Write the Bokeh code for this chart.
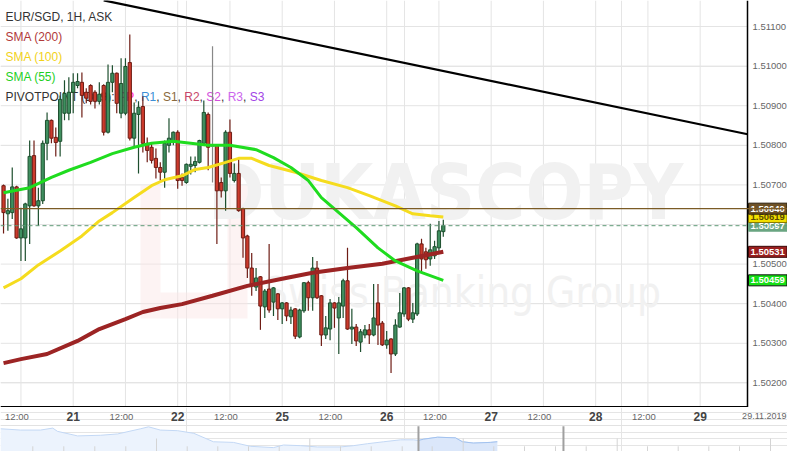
from bokeh.plotting import figure
from bokeh.models import Range1d, Span, ColumnDataSource
from bokeh.layouts import column
from bokeh.core.properties import value
from bokeh.embed import file_html
from bokeh.resources import INLINE

# ---------------- data ----------------
# trading hours counted from 20.11.2019 00:00 (weekend skipped)
hours = list(range(8, 110))
opens = [
    1.50698, 1.50627, 1.50630, 1.50695, 1.50566, 1.50566, 1.50647, 1.50774, 1.50647, 1.50660,
    1.50805, 1.50863, 1.50820, 1.50810, 1.50881, 1.50881, 1.50934, 1.50951, 1.50959, 1.50934,
    1.50951, 1.50934, 1.50911, 1.50951, 1.50833, 1.50959, 1.50982, 1.50881, 1.50881, 1.51009,
    1.50818, 1.50878, 1.50898, 1.50805, 1.50795, 1.50767, 1.50744, 1.50732, 1.50800, 1.50812,
    1.50833, 1.50719, 1.50706, 1.50747, 1.50749, 1.50757, 1.50805, 1.50878, 1.50798, 1.50800,
    1.50706, 1.50685, 1.50833, 1.50711, 1.50729, 1.50640, 1.50571, 1.50490, 1.50442, 1.50468,
    1.50392, 1.50437, 1.50404, 1.50425, 1.50387, 1.50402, 1.50367, 1.50387, 1.50316, 1.50382,
    1.50453, 1.50415, 1.50490, 1.50420, 1.50321, 1.50336, 1.50402, 1.50364, 1.50394, 1.50458,
    1.50336, 1.50341, 1.50303, 1.50321, 1.50334, 1.50321, 1.50402, 1.50351, 1.50296, 1.50311,
    1.50273, 1.50341, 1.50374, 1.50440, 1.50361, 1.50374, 1.50551, 1.50531, 1.50513, 1.50521,
    1.50541, 1.50582]
closes = [
    1.50630, 1.50635, 1.50695, 1.50566, 1.50589, 1.50652, 1.50772, 1.50647, 1.50660, 1.50805,
    1.50863, 1.50818, 1.50807, 1.50916, 1.50931, 1.50934, 1.50959, 1.50961, 1.50926, 1.50919,
    1.50911, 1.50911, 1.50929, 1.50833, 1.50959, 1.50982, 1.50906, 1.50956, 1.50999, 1.50818,
    1.50881, 1.50896, 1.50805, 1.50787, 1.50762, 1.50744, 1.50732, 1.50805, 1.50818, 1.50833,
    1.50711, 1.50711, 1.50752, 1.50752, 1.50759, 1.50812, 1.50883, 1.50795, 1.50798, 1.50685,
    1.50685, 1.50833, 1.50729, 1.50729, 1.50635, 1.50566, 1.50490, 1.50445, 1.50465, 1.50394,
    1.50432, 1.50384, 1.50440, 1.50387, 1.50402, 1.50369, 1.50384, 1.50318, 1.50384, 1.50453,
    1.50415, 1.50490, 1.50415, 1.50321, 1.50339, 1.50402, 1.50389, 1.50402, 1.50458, 1.50336,
    1.50341, 1.50306, 1.50329, 1.50334, 1.50321, 1.50364, 1.50346, 1.50296, 1.50308, 1.50273,
    1.50346, 1.50377, 1.50440, 1.50361, 1.50377, 1.50551, 1.50513, 1.50511, 1.50536, 1.50544,
    1.50584, 1.50597]
highs = [
    1.50701, 1.50665, 1.50744, 1.50698, 1.50642, 1.50655, 1.50812, 1.50812, 1.50693, 1.50812,
    1.50883, 1.50865, 1.50845, 1.50926, 1.50964, 1.50972, 1.50982, 1.50982, 1.50984, 1.50944,
    1.50954, 1.50939, 1.50959, 1.50954, 1.51004, 1.51002, 1.50984, 1.51020, 1.51020, 1.51080,
    1.50908, 1.50911, 1.50924, 1.50820, 1.50805, 1.50792, 1.50757, 1.50812, 1.50868, 1.50835,
    1.50838, 1.50729, 1.50754, 1.50772, 1.50772, 1.50814, 1.50913, 1.50883, 1.51050, 1.50802,
    1.50719, 1.50838, 1.50865, 1.50754, 1.50767, 1.50642, 1.50574, 1.50528, 1.50490, 1.50470,
    1.50437, 1.50551, 1.50442, 1.50427, 1.50404, 1.50404, 1.50392, 1.50389, 1.50387, 1.50455,
    1.50458, 1.50518, 1.50508, 1.50422, 1.50369, 1.50412, 1.50404, 1.50417, 1.50463, 1.50541,
    1.50387, 1.50349, 1.50336, 1.50346, 1.50349, 1.50450, 1.50450, 1.50356, 1.50331, 1.50313,
    1.50361, 1.50427, 1.50442, 1.50442, 1.50402, 1.50554, 1.50564, 1.50541, 1.50602, 1.50559,
    1.50609, 1.50612]
lows = [
    1.50577, 1.50584, 1.50614, 1.50564, 1.50508, 1.50508, 1.50551, 1.50645, 1.50597, 1.50652,
    1.50762, 1.50805, 1.50772, 1.50772, 1.50863, 1.50863, 1.50881, 1.50944, 1.50870, 1.50906,
    1.50903, 1.50893, 1.50903, 1.50825, 1.50830, 1.50934, 1.50881, 1.50868, 1.50876, 1.50812,
    1.50795, 1.50729, 1.50782, 1.50757, 1.50754, 1.50716, 1.50711, 1.50693, 1.50782, 1.50800,
    1.50690, 1.50698, 1.50703, 1.50726, 1.50732, 1.50754, 1.50800, 1.50737, 1.50706, 1.50551,
    1.50668, 1.50635, 1.50719, 1.50706, 1.50632, 1.50516, 1.50465, 1.50420, 1.50432, 1.50334,
    1.50364, 1.50377, 1.50369, 1.50359, 1.50349, 1.50356, 1.50349, 1.50311, 1.50313, 1.50377,
    1.50382, 1.50382, 1.50412, 1.50293, 1.50311, 1.50308, 1.50339, 1.50273, 1.50364, 1.50334,
    1.50298, 1.50293, 1.50278, 1.50313, 1.50298, 1.50318, 1.50296, 1.50293, 1.50286, 1.50225,
    1.50268, 1.50339, 1.50367, 1.50356, 1.50351, 1.50369, 1.50478, 1.50488, 1.50496, 1.50513,
    1.50533, 1.50569]

sma200_t = [8, 12, 18, 25, 30, 36, 40, 44, 49, 56, 64, 72, 79, 87, 95, 102, 109]
sma200_v = [1.50250, 1.50260, 1.50273, 1.50306, 1.50336, 1.50361, 1.50379, 1.50389, 1.50399,
            1.50420, 1.50445, 1.50463, 1.50478, 1.50490, 1.50501, 1.50516, 1.50531]
sma100_t = [8, 12, 16, 21, 26, 30, 33, 38, 42, 45, 49, 52, 55, 59, 62, 65, 69, 75, 81, 87, 92, 98, 102, 106, 109]
sma100_v = [1.50440, 1.50463, 1.50498, 1.50533, 1.50571, 1.50609, 1.50630, 1.50668, 1.50698, 1.50713,
            1.50723, 1.50739, 1.50744, 1.50757, 1.50767, 1.50767, 1.50749, 1.50732, 1.50711, 1.50693,
            1.50673, 1.50647, 1.50627, 1.50622, 1.50619]
sma55_t = [8, 14, 19, 23, 28, 33, 38, 42, 47, 51, 55, 60, 66, 70, 74, 78, 81, 85, 89, 94, 98, 103, 109]
sma55_v = [1.50680, 1.50693, 1.50719, 1.50737, 1.50757, 1.50779, 1.50795, 1.50805, 1.50810, 1.50805,
           1.50800, 1.50800, 1.50789, 1.50769, 1.50744, 1.50711, 1.50668, 1.50630, 1.50592, 1.50541,
           1.50508, 1.50483, 1.50459]

trend_t = [31.0, 178.9]
trend_v = [1.51166, 1.50828]

level_pivot = 1.50640
last_price = 1.50597
box_values = [1.50597, 1.50619, 1.50640, 1.50531, 1.50459]
box_texts = ["1.50597", "1.50619", "1.50640", "1.50531", "1.50459"]
box_fill = ["#6aa682", "#f2e000", "#6e5227", "#9a1f1f", "#16e016"]
box_text_color = ["white", "#5a4a00", "white", "white", "white"]
box_border = ["#6aa682", "#8a7a00", "#2a1f0c", "#3a0808", "#111111"]

price_ticks = [1.502, 1.503, 1.504, 1.505, 1.506, 1.507, 1.508, 1.509, 1.510, 1.511]
price_labels = ["1.50200", "1.50300", "1.50400", "1.50500", "1.50600", "1.50700", "1.50800",
                "1.50900", "1.51000", "1.51100"]
half_day_ticks = [12, 24, 36, 48, 60, 72, 84, 96, 108, 120, 132, 144, 156, 168]
noon_ticks = [12, 36, 60, 84, 108, 132, 156]
day_ticks = [24, 48, 72, 96, 120, 144, 168]
day_labels = ["21", "22", "25", "26", "27", "28", "29"]
date_label = "29.11.2019"

# navigator (overview) series
nav_t = [7.3, 11.9, 16.5, 19.3, 20.4, 25.0, 30.3, 34.2, 39.5, 41.3, 44.0, 48.0, 51.7, 56.2, 60.8,
         64.7, 70.0, 72.3, 76.2, 80.1, 85.4, 88.4, 91.6, 95.3, 99.2, 102.2, 103.3, 104.5, 107.7,
         111.8, 113.4, 115.9, 119.8, 121.4]
nav_level = [35, 33, 33, 36, 31, 24, 25, 27, 35, 38, 33, 32, 28, 15, 14,
             8, 6, 10, 9, 7, 7, 9, 12, 15, 18, 18, 17, 19, 22,
             21, 15, 13, 14, 15]
nav_window = [103.3, 136.6]
nav_ticks = [14.72, 21.84, 28.96, 36.08, 43.13, 50.18, 57.21, 64.26, 71.31, 78.34, 85.39, 92.44,
             99.56, 106.45, 113.57, 120.60, 127.65, 134.77, 141.82, 148.94, 155.90, 162.95,
             169.98, 177.03, 184.15]
nav_tick_major = [False, False, False, False, True, False, False, False, False, True, False, False,
                  False, False, True, False, False, False, False, True, False, False,
                  False, False, True]

# ---------------- geometry ----------------
W = 787
FH = 407
PX_PER_H = 4.354
X0 = 24 - 72.7 / PX_PER_H
XR = X0 + W / PX_PER_H
Y1 = 1.511 + 26 / 39600
Y0 = 1.511 - 381 / 39600
BORDER_PX = 747


def tx(px):
    return X0 + px / PX_PER_H


def py(px):
    return Y1 - px * (Y1 - Y0) / FH


TB = tx(BORDER_PX)
FONT = "Liberation Sans"

p = figure(frame_width=W, frame_height=FH, x_range=Range1d(X0, XR), y_range=Range1d(Y0, Y1),
           output_backend="svg", toolbar_location=None, x_axis_location=None,
           y_axis_location=None, min_border=0)
p.outline_line_color = None
p.background_fill_color = "white"
p.border_fill_color = "white"

# grid (stops at the price-scale border)
p.segment(x0=[X0] * len(price_ticks), y0=price_ticks, x1=[TB] * len(price_ticks), y1=price_ticks,
          line_color="#e4e4e4", line_width=1)
p.segment(x0=half_day_ticks, y0=[Y0] * len(half_day_ticks), x1=half_day_ticks,
          y1=[Y1] * len(half_day_ticks), line_color="#e4e4e4", line_width=1)

# watermark
p.quad(left=[tx(140), tx(227), tx(160)], right=[tx(160), tx(247), tx(227)],
       top=[py(185), py(185), py(292)], bottom=[py(318), py(318), py(318)],
       fill_color="#fbe4e4", fill_alpha=0.45, line_color=None)
p.text(x=[tx(445)], y=[py(192)], text=["DUKASCOPY"],
       text_font=value("DejaVu Sans Condensed, Liberation Sans, sans-serif"),
       text_font_style="bold", text_font_size="76px", text_color="#f1f1f1",
       text_align="center", text_baseline="middle")
p.text(x=[tx(462)], y=[py(292)], text=["Swiss Banking Group"],
       text_font=value("DejaVu Sans Condensed, Liberation Sans, sans-serif"),
       text_font_size="42px", text_color="#f1f1f1", text_align="center", text_baseline="middle")

# legend texts
legend_rows = [("EUR/SGD, 1H, ASK", 16, "#333333"), ("SMA (200)", 36, "#b23a3a"),
               ("SMA (100)", 56, "#f2d21a"), ("SMA (55)", 76, "#1fcf1f")]
for txt, yy, col in legend_rows:
    p.text(x=[tx(5)], y=[py(yy)], text=[txt], text_font=value(FONT), text_font_size="12px",
           text_color=col, text_align="left", text_baseline="middle")
pieces = [("PIVOTPOINT (D, 9): ", 5, "#333333"), ("PP", 117.7, "#ff1ccc"), (",", 133.7, "#333333"),
          ("R1", 140.4, "#3d8fd6"), (",", 155.7, "#333333"), ("S1", 162.4, "#8a6a3c"),
          (",", 177.1, "#333333"), ("R2", 183.8, "#c8466a"), (",", 199.1, "#333333"),
          ("S2", 205.8, "#d44fdc"), (",", 220.5, "#333333"), ("R3", 227.2, "#cc66ee"),
          (",", 242.5, "#333333"), ("S3", 249.2, "#a244e6")]
for txt, xx, col in pieces:
    p.text(x=[tx(xx)], y=[py(96)], text=[txt], text_font=value(FONT), text_font_size="12px",
           text_color=col, text_align="left", text_baseline="middle")

# candles
fill, edge = [], []
for o, c in zip(opens, closes):
    if c > o:
        fill.append("#3f8f5f"); edge.append("#1d4f2e")
    elif c < o:
        fill.append("#cc3a2c"); edge.append("#6e1c14")
    else:
        fill.append("#888888"); edge.append("#888888")
src = ColumnDataSource(dict(t=hours, o=opens, c=closes, h=highs, l=lows,
                            top=[max(a, b) for a, b in zip(opens, closes)],
                            bot=[min(a, b) for a, b in zip(opens, closes)],
                            fill=fill, edge=edge))
p.segment(x0="t", y0="h", x1="t", y1="l", source=src, line_color="edge", line_width=1.2)
p.vbar(x="t", width=0.74, top="top", bottom="bot", source=src, fill_color="fill",
       line_color="edge", line_width=1)

# moving averages
p.line(sma200_t, sma200_v, line_color="#9c2424", line_width=4)
p.line(sma100_t, sma100_v, line_color="#f5dc1e", line_width=3)
p.line(sma55_t, sma55_v, line_color="#1fdc1f", line_width=3)

# horizontal levels
p.add_layout(Span(location=level_pivot, dimension="width", line_color="#7b5b25", line_width=1.3))
p.add_layout(Span(location=last_price, dimension="width", line_color="#5f9a78",
                  line_width=1, line_dash="4 3"))

# trend line
p.line(trend_t, trend_v, line_color="black", line_width=2.2)

# price scale: white panel, border, labels
p.quad(left=[TB], right=[XR], top=[Y1], bottom=[Y0], fill_color="white", line_color=None)
p.segment(x0=[TB], y0=[Y0], x1=[TB], y1=[Y1], line_color="black", line_width=1.5)
p.segment(x0=[X0], y0=[py(406.3)], x1=[TB], y1=[py(406.3)], line_color="black", line_width=1.5)
p.text(x=[tx(BORDER_PX + 5)] * len(price_ticks), y=price_ticks, text=price_labels,
       text_font=value(FONT), text_font_size="9.5px", text_color="#666666",
       text_align="left", text_baseline="middle")

half_h = 5.5 * (Y1 - Y0) / FH
for i in range(len(box_values)):
    p.quad(left=[tx(BORDER_PX + 1)], right=[tx(W - 0.5)], top=[box_values[i] + half_h],
           bottom=[box_values[i] - half_h], fill_color=box_fill[i], line_color=box_border[i],
           line_width=1)
    p.text(x=[tx(BORDER_PX + 3)], y=[box_values[i]], text=[box_texts[i]], text_font=value(FONT),
           text_font_size="9.5px", text_font_style="bold", text_color=box_text_color[i],
           text_align="left", text_baseline="middle")

# ---------------- navigator + time labels ----------------
NAV_H = 44
UNIT = 0.65
NY1 = 40 + 18 / UNIT
nav = figure(frame_width=W, frame_height=NAV_H, x_range=Range1d(X0, XR), y_range=Range1d(0, NY1),
             output_backend="svg", toolbar_location=None, x_axis_location=None,
             y_axis_location=None, min_border=0)
nav.outline_line_color = None
nav.background_fill_color = "white"
nav.border_fill_color = "white"

nav.segment(x0=[X0], y0=[40], x1=[XR], y1=[40], line_color="#e2e2e2", line_width=1)
label_level = (451 - 415.5) / UNIT
nav.text(x=noon_ticks, y=[label_level] * len(noon_ticks), text=["12:00"] * len(noon_ticks),
         text_font=value(FONT), text_font_size="9.5px", text_color="#666666",
         text_align="center", text_baseline="middle", x_offset=-4)
nav.text(x=day_ticks, y=[label_level] * len(day_ticks), text=day_labels, text_font=value(FONT),
         text_font_size="12px", text_font_style="bold", text_color="#444444",
         text_align="center", text_baseline="middle")
nav.text(x=[tx(786)], y=[label_level], text=[date_label], text_font=value(FONT), text_font_size="9px",
         text_color="#666666", text_align="right", text_baseline="middle")

nav.varea(x=nav_t, y1=[0] * len(nav_t), y2=nav_level, fill_color="#ecf3fd")
nav.line(nav_t, nav_level, line_color="#c3d8f5", line_width=1)
sel = [i for i, t in enumerate(nav_t) if t >= nav_window[0]]
nav.varea(x=[nav_t[i] for i in sel], y1=[0] * len(sel), y2=[nav_level[i] for i in sel],
          fill_color="#dbe7fa")
nav.line([nav_t[i] for i in sel], [nav_level[i] for i in sel], line_color="#a2c2ef", line_width=1)

nav.segment(x0=nav_ticks, y0=[0] * len(nav_ticks), x1=nav_ticks,
            y1=[20 if m else 8 for m in nav_tick_major], line_color="#d4d4d4", line_width=1)
nav.segment(x0=nav_window, y0=[0, 0], x1=nav_window, y1=[39, 39], line_color="#a0a0a0", line_width=2)

layout = column(p, nav, spacing=0)
open("out.html", "w").write(file_html(layout, INLINE))
